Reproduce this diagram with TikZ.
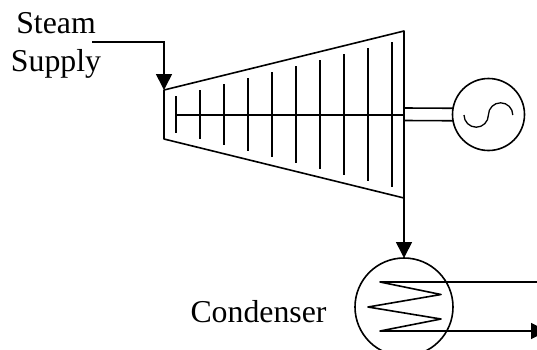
\documentclass[tikz,border=0pt]{standalone}
\usepackage{fontspec}
\setmainfont{Liberation Serif}
\usetikzlibrary{arrows.meta}
\begin{document}
\begin{tikzpicture}[x=1pt, y=-1pt, line width=1.6pt, >={Triangle[length=16pt, width=16pt]},
        label/.style={anchor=base, font=\fontsize{31.8}{38}\selectfont, inner sep=0pt},
        machine/.style={draw, circle, inner sep=0pt, outer sep=0pt}]
        \path[use as bounding box, clip] (0, 0) rectangle (537, 349);

        % Turbine
        \coordinate (inlet) at (164, 90);
        \coordinate (outlet) at (404, 31);
        \coordinate (exhaust) at (404, 198);
        \coordinate (base) at (164, 139);
        \draw[line join=round] (inlet) -- (outlet) -- (exhaust) -- (base) -- cycle;
        \foreach \i in {0,...,9} {
            \draw (176 + \i*24, 96 - \i*6) -- (176 + \i*24, 133 + \i*6);
        }
        \coordinate (shaftstart) at (176, 115);
        \coordinate (shaftend) at (404, 115);
        \draw (shaftstart) -- (shaftend);

        % Steam supply
        \node[label] (steam) at (56, 33) {Steam};
        \node[label] (supply) at (56, 71.7) {Supply};
        \coordinate (supplyline) at (92, 42);
        \draw[->] (supplyline) -| (inlet);

        % Generator
        \node[machine, minimum size=72pt] (generator) at (488.5, 114.5) {};
        \coordinate (shafttop) at (404, 108);
        \coordinate (shaftbottom) at (404, 120.5);
        \draw (shafttop) -- (generator.170);
        \draw (shaftbottom) -- (generator.190);
        \draw[line width=1.3pt] (464, 115) arc[start angle=180, end angle=0, radius=12.2]
            arc[start angle=180, end angle=360, radius=12.2];

        % Condenser
        \node[machine, minimum size=98pt] (condenser) at (404, 307) {};
        \node[label] (condenserlabel) at (258.5, 322) {Condenser};
        \draw[->] (exhaust) -- (condenser.north);
        \coordinate (coilin) at (537, 282);
        \coordinate (coilout) at (547, 331);
        \draw[line join=round, ->] (coilin) -- (380, 282) -- (441, 294.5) -- (368, 307) -- (441, 319) -- (380, 331) -- (coilout);
    \end{tikzpicture}
\end{document}
